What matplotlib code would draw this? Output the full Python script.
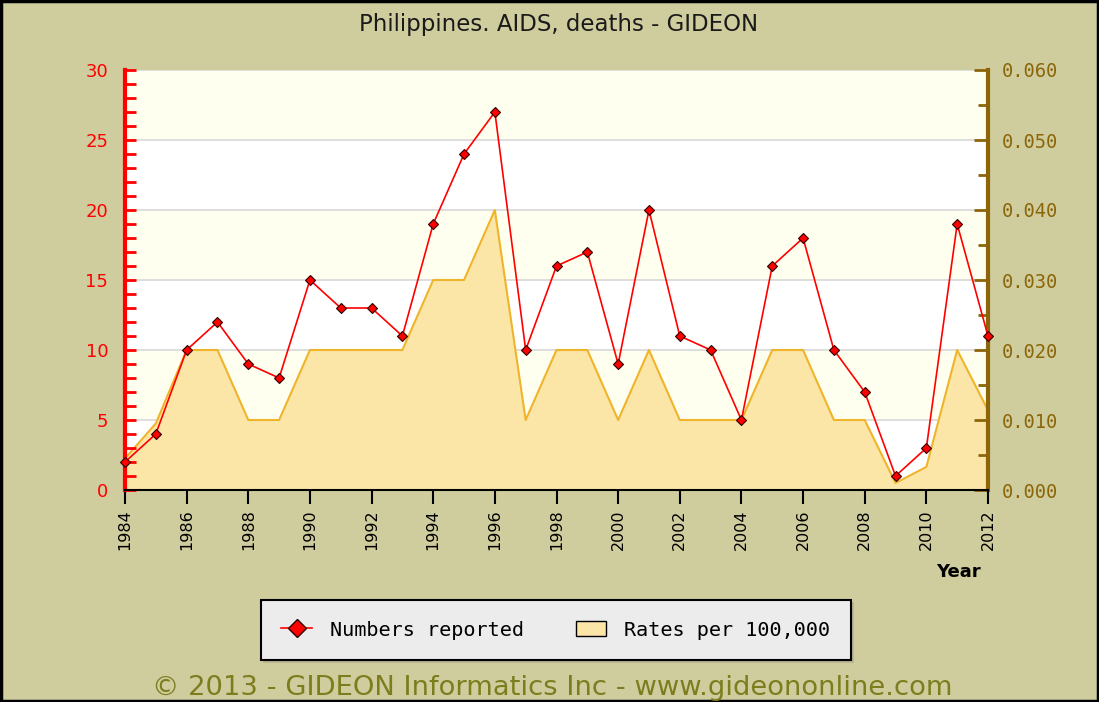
import matplotlib
matplotlib.use("Agg")
import matplotlib.pyplot as plt
from matplotlib.lines import Line2D
from matplotlib.patches import Patch, Rectangle
from matplotlib.ticker import MultipleLocator, FormatStrFormatter

years = list(range(1984, 2013))
numbers_reported = [2, 4, 10, 12, 9, 8, 15, 13, 13, 11, 19, 24, 27, 10, 16, 17, 9, 20,
                    11, 10, 5, 16, 18, 10, 7, 1, 3, 19, 11]
rates_per_100k = [0.0045, 0.0095, 0.020, 0.020, 0.010, 0.010, 0.020, 0.020, 0.020, 0.020,
                  0.030, 0.030, 0.040, 0.010, 0.020, 0.020, 0.010, 0.020, 0.010, 0.010,
                  0.010, 0.020, 0.020, 0.010, 0.010, 0.001, 0.0033, 0.020, 0.0114]
x_tick_years = list(range(1984, 2013, 2))

title = "Philippines. AIDS, deaths - GIDEON"
footer = "\u00a9 2013 - GIDEON Informatics Inc - www.gideononline.com"

BG = "#cfcc9e"
BAND = "#fffff0"
FILL = "#fbe6a8"
FILL_EDGE = "#f0b42a"
RIGHT_C = "#8b6508"

fig = plt.figure(figsize=(10.99, 7.02), dpi=100, facecolor=BG)
W, H = 1099, 702
rect = [125 / W, 1 - 490 / H, (988 - 125) / W, 420 / H]

ax2 = fig.add_axes(rect)  # rates (bottom layer)
ax = fig.add_axes(rect, sharex=ax2)
ax.set_zorder(ax2.get_zorder() + 1)
ax.patch.set_visible(False)

# Rates axis (right)
ax2.set_facecolor("white")
ax2.set_ylim(0, 0.06)
ax2.set_xlim(1984, 2012)
for lo in (0.01, 0.03, 0.05):
    ax2.axhspan(lo, lo + 0.01, color=BAND, zorder=0, lw=0)
for g in (0.01, 0.02, 0.03, 0.04, 0.05, 0.06):
    ax2.axhline(g, color="#d8d8d8", lw=1.2, zorder=0.5)
ax2.fill_between(years, rates_per_100k, 0, color=FILL, lw=0, zorder=1)
ax2.plot(years, rates_per_100k, color=FILL_EDGE, lw=1.5, zorder=2)
ax2.yaxis.tick_right()
ax2.yaxis.set_label_position("right")
ax2.yaxis.set_major_locator(MultipleLocator(0.01))
ax2.yaxis.set_minor_locator(MultipleLocator(0.005))
ax2.yaxis.set_major_formatter(FormatStrFormatter("%.3f"))
ax2.tick_params(axis="y", which="both", direction="in", colors=RIGHT_C,
                labelcolor=RIGHT_C, width=2, labelsize=13.5, pad=10)
ax2.tick_params(axis="y", which="major", length=10)
ax2.tick_params(axis="y", which="minor", length=7)
for lab in ax2.get_yticklabels():
    lab.set_family("DejaVu Sans Mono")
for s in ("top", "left", "bottom"):
    ax2.spines[s].set_visible(False)
ax2.spines["right"].set_color(RIGHT_C)
ax2.spines["right"].set_linewidth(3)
ax2.tick_params(axis="x", which="both", bottom=False, labelbottom=False)

# Numbers axis (left)
ax.plot(years, numbers_reported, color="red", lw=1.2, marker="D", markersize=5,
        markerfacecolor="red", markeredgecolor="#300000", markeredgewidth=0.8,
        zorder=5, clip_on=False)
ax.set_ylim(0, 30)
ax.set_xlim(1984, 2012)
ax.yaxis.set_major_locator(MultipleLocator(5))
ax.yaxis.set_minor_locator(MultipleLocator(1))
ax.tick_params(axis="y", which="both", direction="in", colors="red",
               labelcolor="red", width=2, length=8, labelsize=13, pad=12)
ax.set_xticks(x_tick_years)
ax.set_xticklabels([str(y) for y in x_tick_years], rotation=90)
ax.tick_params(axis="x", which="major", direction="out", length=10, width=1.5,
               color="black", labelsize=11.5, pad=4)
ax.xaxis.set_minor_locator(plt.NullLocator())
for s in ("top", "right"):
    ax.spines[s].set_visible(False)
ax.spines["left"].set_color("red")
ax.spines["left"].set_linewidth(3)
ax.spines["bottom"].set_color("black")
ax.spines["bottom"].set_linewidth(1.5)

fig.text(958 / W, 1 - 572 / H, "Year", ha="center", va="center",
         fontsize=13, fontweight="bold", color="black")
fig.text(559 / W, 1 - 25 / H, title, ha="center", va="center",
         fontsize=16.5, color="#1a1a1a")
fig.text(552 / W, 1 - 688 / H, footer, ha="center", va="center",
         fontsize=19.7, color="#7d7d1e")

handles = [
    Line2D([0], [0], color="red", lw=1.2, marker="D", markersize=9,
           markerfacecolor="red", markeredgecolor="#300000"),
    Patch(facecolor=FILL, edgecolor="black", lw=1),
]
leg = fig.legend(handles, ["Numbers reported", "Rates per 100,000"], ncol=2,
                 loc="center", bbox_to_anchor=(556 / W, 1 - 630 / H),
                 frameon=True, fancybox=False, shadow={"color": "#a8a68a"},
                 facecolor="#ececec", edgecolor="black", framealpha=1,
                 prop={"family": "DejaVu Sans Mono", "size": 14.5},
                 borderpad=1.0, columnspacing=2.6, handlelength=1.5,
                 handleheight=0.8, handletextpad=0.9, borderaxespad=0)
leg.get_frame().set_linewidth(1.5)

fig.patches.append(Rectangle((0.001, 0.001), 0.998, 0.997, transform=fig.transFigure,
                             fill=False, edgecolor="black", lw=2.5))

fig.savefig("out.png", dpi=100, facecolor=BG)
